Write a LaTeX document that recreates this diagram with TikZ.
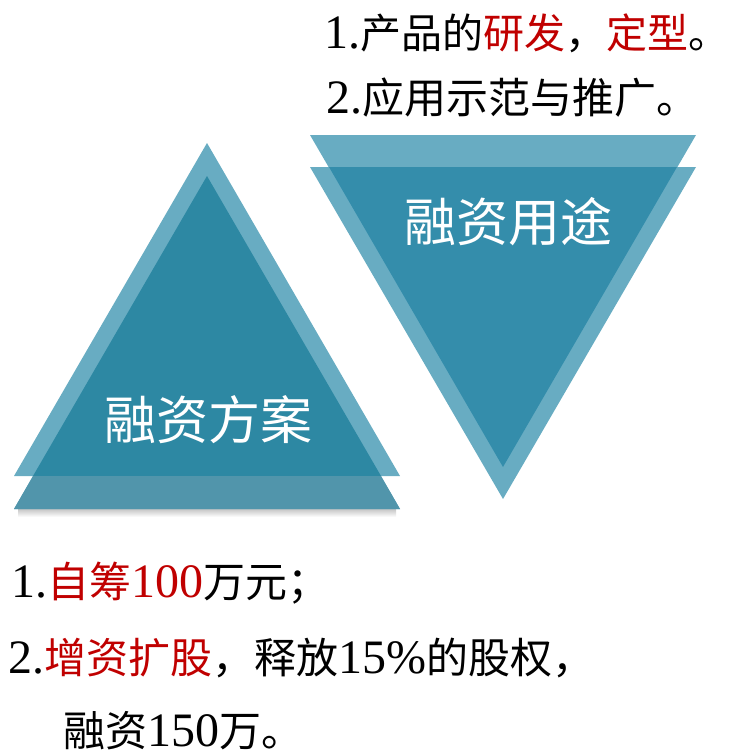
\documentclass[tikz,border=0pt]{standalone}
\usepackage{fontspec}
\setmainfont{Liberation Serif}
\newfontfamily\cjk{Noto Sans CJK SC}
\definecolor{lightb}{HTML}{68ACC2}
\definecolor{darkl}{HTML}{2D88A3}
\definecolor{darkr}{HTML}{348DAB}
\definecolor{stripb}{HTML}{5195AB}
\definecolor{redt}{HTML}{C00000}
\tikzset{
  item/.style={anchor=base west, inner sep=0pt, font=\fontsize{48}{48}\selectfont, text=black},
  tri/.style={inner sep=0pt, text=white, font=\cjk\fontsize{52}{52}\selectfont}
}
\newcommand{\rd}[1]{\textcolor{redt}{#1}}
\newcommand{\ck}[1]{{\cjk\fontsize{42}{42}\selectfont #1}}
\newcommand{\cks}[1]{{\cjk\fontsize{41}{41}\selectfont #1}}
\begin{document}
\begin{tikzpicture}[x=1pt,y=-1pt]
\useasboundingbox (0,0) rectangle (730,755);
% left triangle pair
\shade[top color=gray!45, bottom color=white] (18,509) rectangle (396,517);
\fill[lightb] (207,176) -- (400,509) -- (14,509) -- cycle;
\fill[lightb] (207,143) -- (400,476) -- (14,476) -- cycle;
\fill[darkl] (207,176) -- (381,476) -- (33,476) -- cycle;
\fill[stripb] (33,476) -- (381,476) -- (400,509) -- (14,509) -- cycle;
% right triangle pair
\fill[lightb] (310,135) -- (696,135) -- (503,467) -- cycle;
\fill[lightb] (310,167) -- (696,167) -- (503,499) -- cycle;
\fill[darkr] (329,167) -- (677,167) -- (503,467) -- cycle;
% labels
\node[tri] (plan) at (208,420) {融资方案};
\node[tri] (use) at (508,222) {融资用途};
% top text
\node[item] (u1) at (324,48) {1.\cks{产品的\rd{研发}，\rd{定型}。}};
\node[item] (u2) at (326,113) {2.\ck{应用示范与推广。}};
% bottom text
\node[item] (p1) at (11,597) {1.\rd{\ck{自筹}100}\ck{万元；}};
\node[item] (p2) at (8,673) {2.\ck{\rd{增资扩股}，释放}15\%\ck{的股权，}};
\node[item] (p3) at (63,746) {\ck{融资}150\ck{万。}};
\end{tikzpicture}
\end{document}
